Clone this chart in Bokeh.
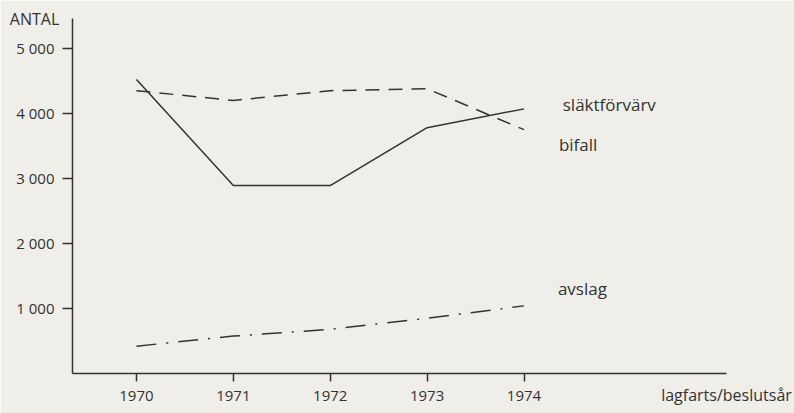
from bokeh.plotting import figure
from bokeh.models import Range1d, FixedTicker, Label
from bokeh.embed import file_html
from bokeh.resources import INLINE

years = [1970, 1971, 1972, 1973, 1974]
slaktforvarv = [4350, 4200, 4350, 4380, 3750]
bifall = [4520, 2890, 2890, 3780, 4070]
avslag = [420, 575, 680, 850, 1040]
y_ticks = [1000, 2000, 3000, 4000, 5000]
y_tick_labels = ["1 000", "2 000", "3 000", "4 000", "5 000"]

BG = "#efeee9"
INK = "#333333"
FONT = "Open Sans"

p = figure(width=794, height=413, output_backend="svg", toolbar_location=None,
           x_range=Range1d(1969.34, 1976.09), y_range=Range1d(0, 5460),
           min_border_left=72, min_border_right=68, min_border_top=18, min_border_bottom=40)
p.background_fill_color = BG
p.border_fill_color = BG
p.outline_line_color = None
p.xgrid.visible = False
p.ygrid.visible = False

p.line(years, slaktforvarv, line_color=INK, line_width=1.5, line_dash="14 9")
p.line(years, bifall, line_color=INK, line_width=1.5)
p.line(years, avslag, line_color=INK, line_width=1.5, line_dash="20 10 2 10")

for ax in (p.xaxis[0], p.yaxis[0]):
    ax.axis_line_color = INK
    ax.axis_line_width = 1.5
    ax.major_tick_line_color = INK
    ax.major_tick_line_width = 1.5
    ax.minor_tick_line_color = None
    ax.major_tick_in = 0
    ax.major_label_text_font = FONT
    ax.major_label_text_font_size = "15px"
    ax.major_label_text_color = INK
    ax.axis_label_text_font = FONT
    ax.axis_label_text_font_style = "normal"
    ax.axis_label_text_color = INK

p.xaxis.ticker = FixedTicker(ticks=years)
p.xaxis.major_tick_out = 8
p.xaxis.major_label_standoff = 9
p.xaxis.axis_label = "lagfarts/beslutsår"
p.xaxis.axis_label_text_font_size = "16px"
p.xaxis.axis_label_align = "end"
p.xaxis.axis_label_standoff = -20

p.yaxis.ticker = FixedTicker(ticks=y_ticks)
p.yaxis.major_label_overrides = {t: s for t, s in zip(y_ticks, y_tick_labels)}
p.yaxis.major_tick_out = 10
p.yaxis.major_label_standoff = 8
p.yaxis.axis_label = "ANTAL"
p.yaxis.axis_label_text_font_size = "16px"
p.yaxis.axis_label_orientation = "horizontal"
p.yaxis.axis_label_align = "end"
p.yaxis.axis_label_standoff = -46

def lab(text, x, y, size="17px"):
    p.add_layout(Label(x=x, y=y, text=text, text_font=FONT, text_font_size=size,
                       text_color=INK, text_align="left", text_baseline="alphabetic"))

lab("släktförvärv", 1974.40, 4140)
lab("bifall", 1974.36, 3520)
lab("avslag", 1974.35, 1310)

html = file_html(p, INLINE)
html = html.replace("<body>", '<body style="background:%s">' % BG, 1)
open("out.html", "w").write(html)
